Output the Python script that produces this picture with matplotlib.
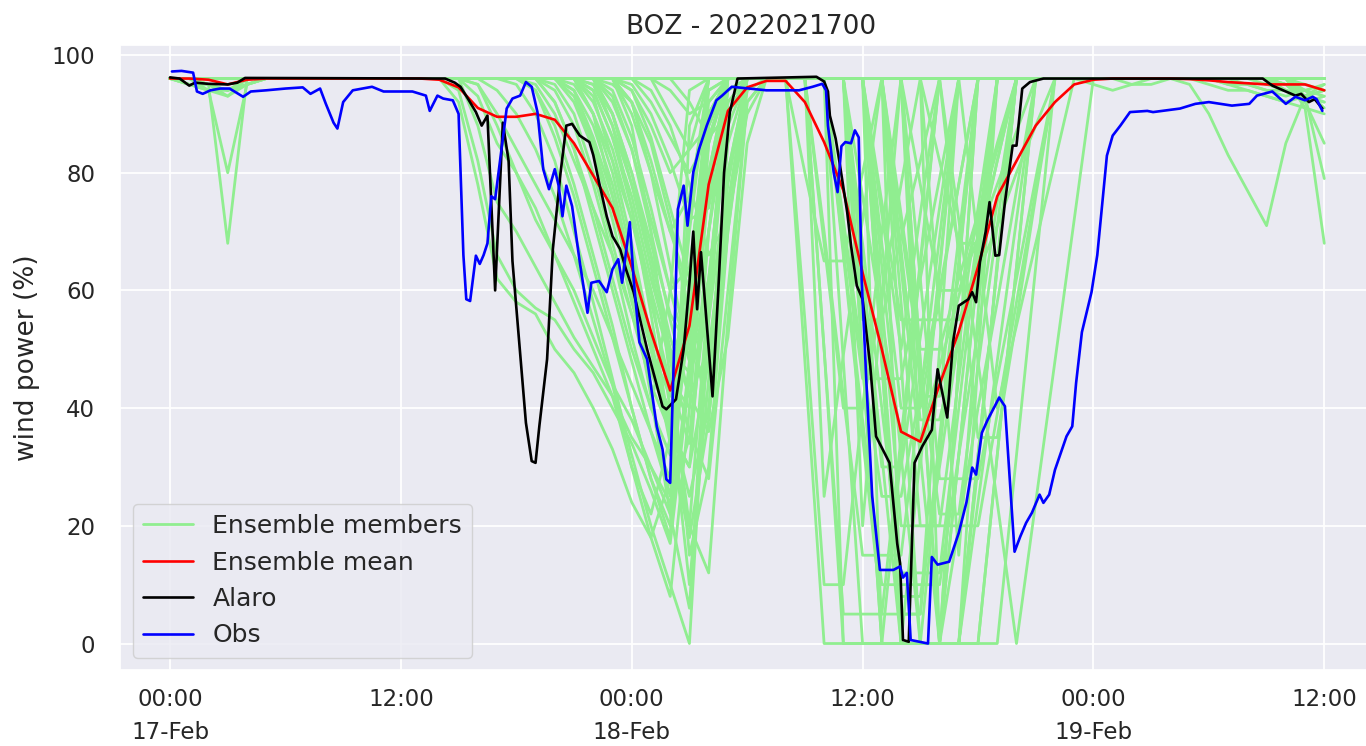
import pandas as pd
import matplotlib
matplotlib.use('Agg')
import matplotlib.pyplot as plt
import seaborn as sns

sns.set_theme(style='darkgrid')
plt.rcParams['font.family'] = ['DejaVu Sans']

# --- data (hours since 2022-02-17 00:00) ---
base = pd.Timestamp('2022-02-17 00:00')

# ensemble members, hourly values 00:00 17-Feb .. 12:00 19-Feb (61 values)
mem01 = [96, 96, 96, 96, 96, 96, 96, 96, 96, 96, 96, 96, 96, 96,
         96, 92, 78, 62, 58, 56, 50, 46, 40, 33, 24, 18, 28, 62, 92, 96, 96, 96,
         96, 48, 0, 0, 0, 0, 32, 64, 96, 96, 96, 96, 96, 96, 96, 96, 96, 96,
         96, 96, 96, 96, 96, 96, 96, 95, 94, 93, 94]
mem02 = [96, 96, 96, 96, 96, 96, 96, 96, 96, 96, 96, 96, 96, 96,
         96, 94, 82, 66, 60, 57, 55, 50, 46, 40, 34, 26, 17, 45, 80, 96, 96, 96,
         96, 55, 10, 10, 40, 70, 96, 96, 96, 96, 96, 96, 96, 96, 96, 96, 96, 96,
         96, 96, 96, 96, 96, 96, 96, 96, 96, 96, 96]
mem03 = [96, 96, 95, 68, 96, 96, 96, 96, 96, 96, 96, 96, 96, 96,
         96, 96, 88, 75, 70, 64, 58, 52, 47, 42, 30, 22, 35, 75, 96, 96, 96, 96,
         96, 96, 50, 0, 0, 0, 0, 0, 0, 0, 30, 65, 96, 96, 96, 96, 96, 96,
         96, 96, 96, 96, 96, 96, 96, 96, 96, 96, 96]
mem04 = [96, 96, 96, 96, 96, 96, 96, 96, 96, 96, 96, 96, 96, 96,
         96, 96, 93, 85, 80, 74, 66, 58, 50, 42, 35, 30, 22, 60, 90, 96, 96, 96,
         96, 96, 70, 42, 15, 15, 15, 42, 69, 96, 96, 96, 96, 96, 96, 96, 96, 96,
         96, 96, 96, 96, 96, 96, 96, 96, 96, 96, 96]
mem05 = [96, 96, 96, 96, 96, 96, 96, 96, 96, 96, 96, 96, 96, 96,
         96, 96, 96, 94, 90, 84, 76, 66, 55, 44, 30, 18, 8, 40, 85, 96, 96, 96,
         96, 96, 96, 48, 0, 0, 0, 0, 0, 32, 64, 96, 96, 96, 96, 96, 96, 96,
         96, 96, 96, 95, 90, 83, 77, 71, 85, 93, 94]
mem06 = [96, 96, 96, 96, 96, 96, 96, 96, 96, 96, 96, 96, 96, 96,
         96, 96, 96, 96, 95, 90, 82, 70, 58, 45, 32, 20, 10, 0, 55, 92, 96, 96,
         96, 96, 96, 66, 35, 5, 5, 5, 35, 65, 96, 96, 96, 96, 96, 96, 96, 96,
         96, 96, 96, 96, 96, 96, 96, 96, 96, 96, 96]
mem07 = [96, 96, 94, 80, 95, 96, 96, 96, 96, 96, 96, 96, 96, 96,
         96, 96, 96, 96, 96, 94, 88, 78, 66, 54, 40, 28, 20, 48, 88, 96, 96, 96,
         96, 96, 96, 72, 48, 25, 25, 43, 60, 78, 96, 96, 96, 96, 96, 96, 96, 96,
         96, 96, 96, 96, 96, 96, 96, 96, 96, 96, 96]
mem08 = [96, 96, 96, 96, 96, 96, 96, 96, 96, 96, 96, 96, 96, 96,
         96, 96, 96, 96, 96, 96, 92, 84, 72, 60, 48, 36, 28, 55, 90, 96, 96, 96,
         96, 96, 96, 96, 48, 0, 0, 0, 0, 0, 32, 64, 96, 96, 96, 96, 96, 96,
         96, 96, 96, 96, 96, 96, 96, 96, 96, 96, 96]
mem09 = [96, 96, 96, 96, 96, 96, 96, 96, 96, 96, 96, 96, 96, 96,
         96, 96, 96, 96, 96, 96, 94, 88, 78, 66, 52, 40, 32, 62, 94, 96, 96, 96,
         96, 96, 96, 96, 68, 40, 12, 12, 12, 40, 68, 96, 96, 96, 96, 96, 96, 96,
         96, 96, 96, 96, 96, 95, 94, 93, 92, 91, 90]
mem10 = [96, 95, 94, 94, 95, 96, 96, 96, 96, 96, 96, 96, 96, 96,
         96, 96, 96, 96, 96, 96, 96, 92, 84, 72, 58, 46, 38, 70, 96, 96, 96, 96,
         96, 96, 96, 96, 76, 55, 35, 35, 47, 59, 72, 84, 96, 96, 96, 96, 96, 96,
         96, 96, 96, 96, 96, 96, 96, 96, 96, 96, 96]
mem11 = [96, 96, 96, 96, 96, 96, 96, 96, 96, 96, 96, 96, 96, 96,
         96, 96, 96, 96, 96, 95, 90, 82, 74, 66, 56, 46, 40, 52, 80, 96, 96, 96,
         96, 96, 96, 96, 96, 48, 0, 0, 0, 0, 32, 64, 96, 96, 96, 96, 95, 94,
         95, 96, 96, 96, 96, 96, 96, 96, 96, 96, 96]
mem12 = [96, 96, 96, 96, 96, 96, 96, 96, 96, 96, 96, 96, 96, 96,
         96, 96, 96, 96, 96, 96, 96, 94, 88, 78, 64, 50, 42, 60, 88, 96, 96, 96,
         96, 96, 96, 96, 96, 58, 20, 20, 20, 45, 70, 96, 96, 96, 96, 96, 96, 96,
         96, 96, 96, 96, 96, 96, 96, 96, 96, 91, 68]
mem13 = [96, 96, 96, 96, 96, 96, 96, 96, 96, 96, 96, 96, 96, 96,
         96, 96, 96, 96, 96, 96, 95, 90, 80, 68, 56, 44, 36, 30, 70, 94, 96, 96,
         96, 96, 96, 96, 96, 64, 32, 0, 0, 0, 24, 48, 72, 96, 96, 96, 96, 96,
         96, 96, 96, 96, 96, 96, 96, 96, 96, 96, 96]
mem14 = [96, 96, 96, 96, 96, 96, 96, 96, 96, 96, 96, 96, 96, 96,
         96, 96, 96, 96, 96, 96, 96, 96, 90, 80, 66, 52, 45, 40, 78, 96, 96, 96,
         96, 96, 96, 96, 96, 68, 40, 40, 59, 78, 96, 96, 96, 96, 96, 96, 96, 96,
         96, 96, 96, 96, 95, 94, 94, 93, 92, 93, 92]
mem15 = [96, 96, 96, 96, 96, 96, 96, 96, 96, 96, 96, 96, 96, 96,
         96, 96, 96, 96, 96, 96, 96, 93, 85, 74, 62, 50, 38, 25, 40, 80, 96, 96,
         96, 96, 96, 96, 96, 96, 58, 20, 20, 20, 20, 39, 58, 77, 96, 96, 96, 96,
         96, 96, 96, 96, 96, 96, 96, 96, 96, 96, 96]
mem16 = [96, 96, 96, 96, 96, 96, 96, 96, 96, 96, 96, 96, 96, 96,
         96, 96, 96, 96, 96, 96, 96, 96, 94, 86, 74, 60, 48, 55, 85, 96, 96, 96,
         96, 96, 96, 96, 96, 96, 73, 50, 50, 62, 73, 85, 96, 96, 96, 96, 96, 96,
         96, 96, 96, 96, 96, 96, 96, 96, 96, 96, 96]
mem17 = [96, 96, 96, 96, 96, 96, 96, 96, 96, 96, 96, 96, 96, 96,
         96, 96, 96, 96, 96, 96, 96, 96, 96, 90, 80, 68, 56, 50, 70, 90, 96, 96,
         96, 96, 96, 96, 96, 96, 64, 32, 0, 20, 40, 58, 77, 96, 96, 96, 96, 96,
         96, 96, 96, 96, 96, 96, 96, 96, 94, 92, 93]
mem18 = [96, 96, 95, 93, 96, 96, 96, 96, 96, 96, 96, 96, 96, 96,
         96, 96, 96, 96, 96, 96, 96, 96, 92, 84, 72, 58, 44, 34, 62, 88, 96, 96,
         96, 96, 96, 96, 96, 96, 67, 38, 38, 52, 67, 82, 96, 96, 96, 96, 96, 96,
         96, 96, 96, 96, 96, 96, 96, 96, 96, 96, 96]
mem19 = [96, 96, 96, 96, 96, 96, 96, 96, 96, 96, 96, 96, 96, 96,
         96, 96, 96, 96, 96, 96, 96, 96, 96, 94, 86, 74, 60, 64, 90, 96, 96, 96,
         96, 96, 96, 96, 96, 96, 96, 62, 28, 28, 28, 45, 62, 79, 96, 96, 96, 96,
         96, 96, 96, 96, 96, 96, 96, 96, 96, 96, 96]
mem20 = [96, 96, 96, 96, 96, 96, 96, 96, 96, 96, 96, 96, 96, 96,
         96, 96, 96, 96, 96, 96, 96, 96, 96, 96, 90, 80, 70, 76, 94, 96, 96, 96,
         96, 96, 96, 96, 96, 96, 96, 78, 60, 60, 69, 78, 87, 96, 96, 96, 96, 96,
         96, 96, 96, 96, 96, 96, 96, 96, 96, 93, 79]
mem21 = [96, 96, 96, 96, 96, 96, 96, 96, 96, 96, 96, 96, 96, 96,
         96, 96, 96, 96, 96, 96, 96, 96, 96, 96, 94, 88, 80, 84, 96, 96, 96, 96,
         96, 96, 96, 96, 96, 96, 96, 96, 96, 72, 48, 24, 0, 24, 48, 72, 96, 96,
         96, 96, 96, 96, 96, 96, 96, 96, 96, 96, 96]
mem22 = [96, 96, 96, 96, 96, 96, 96, 96, 96, 96, 96, 96, 96, 96,
         96, 96, 96, 96, 96, 96, 96, 96, 95, 88, 78, 66, 50, 15, 30, 70, 96, 96,
         96, 96, 96, 96, 55, 55, 69, 82, 96, 96, 96, 96, 96, 96, 96, 96, 96, 96,
         96, 96, 96, 96, 96, 96, 96, 96, 96, 96, 96]
mem23 = [96, 96, 96, 96, 96, 96, 96, 96, 96, 96, 96, 96, 96, 96,
         96, 96, 96, 96, 96, 96, 96, 96, 96, 92, 84, 70, 55, 42, 50, 75, 94, 96,
         96, 96, 68, 40, 40, 59, 78, 96, 96, 96, 96, 96, 96, 96, 96, 96, 96, 96,
         96, 96, 96, 96, 96, 96, 96, 96, 96, 96, 96]
mem24 = [96, 96, 96, 96, 96, 96, 96, 96, 96, 96, 96, 96, 96, 96,
         96, 96, 96, 96, 96, 96, 96, 96, 96, 96, 96, 92, 86, 80, 86, 96, 96, 96,
         96, 80, 65, 65, 80, 96, 96, 96, 96, 96, 96, 96, 96, 96, 96, 96, 96, 96,
         96, 96, 96, 96, 96, 96, 95, 94, 93, 94, 95]
mem25 = [96, 95, 95, 94, 96, 96, 96, 96, 96, 96, 96, 96, 96, 96,
         96, 96, 96, 96, 96, 96, 96, 96, 94, 86, 76, 62, 50, 46, 55, 80, 96, 96,
         96, 96, 96, 96, 96, 96, 96, 30, 63, 96, 96, 96, 96, 96, 96, 96, 96, 96,
         96, 96, 96, 96, 96, 96, 96, 96, 96, 96, 96]
mem26 = [96, 96, 96, 96, 96, 96, 96, 96, 96, 96, 96, 96, 96, 96,
         96, 96, 96, 96, 96, 96, 96, 96, 96, 96, 95, 90, 82, 72, 74, 90, 96, 96,
         96, 96, 96, 96, 96, 96, 96, 96, 82, 68, 68, 82, 96, 96, 96, 96, 96, 96,
         96, 96, 96, 96, 96, 96, 96, 96, 96, 96, 96]
mem27 = [96, 96, 96, 96, 96, 96, 96, 96, 96, 96, 96, 96, 96, 96,
         96, 96, 96, 96, 96, 96, 96, 96, 96, 96, 96, 96, 94, 90, 92, 96, 96, 96,
         96, 96, 96, 0, 0, 0, 0, 32, 64, 96, 96, 96, 96, 96, 96, 96, 96, 96,
         96, 96, 96, 96, 96, 96, 96, 96, 95, 92, 85]
mem28 = [96, 96, 96, 96, 96, 96, 96, 96, 96, 96, 96, 96, 96, 96,
         96, 96, 96, 96, 96, 96, 96, 96, 96, 93, 84, 72, 60, 48, 62, 92, 96, 96,
         96, 96, 96, 96, 63, 30, 30, 52, 74, 96, 96, 96, 96, 96, 96, 96, 96, 96,
         96, 96, 96, 96, 96, 96, 96, 96, 96, 96, 96]
mem29 = [96, 96, 96, 96, 96, 96, 96, 96, 96, 96, 96, 96, 96, 96,
         96, 96, 96, 96, 96, 96, 96, 96, 96, 96, 92, 82, 70, 60, 76, 96, 96, 96,
         96, 96, 96, 96, 96, 48, 0, 0, 0, 32, 64, 96, 96, 96, 96, 96, 96, 96,
         95, 95, 96, 96, 96, 96, 96, 96, 96, 96, 96]
mem30 = [96, 96, 96, 96, 96, 96, 96, 96, 96, 96, 96, 96, 96, 96,
         96, 96, 96, 96, 96, 96, 96, 96, 96, 96, 96, 96, 96, 96, 96, 96, 96, 96,
         96, 96, 96, 96, 96, 96, 96, 48, 0, 48, 96, 96, 96, 96, 96, 96, 96, 96,
         96, 96, 96, 96, 96, 96, 96, 96, 96, 96, 96]
mem31 = [96, 96, 96, 96, 96, 96, 96, 96, 96, 96, 96, 96, 96, 96,
         96, 96, 96, 96, 96, 96, 96, 96, 93, 82, 68, 52, 35, 20, 60, 96, 96, 96,
         96, 96, 50, 5, 5, 5, 35, 65, 96, 96, 96, 96, 96, 96, 96, 96, 96, 96,
         96, 96, 96, 96, 96, 96, 96, 96, 95, 94, 93]
mem32 = [96, 96, 96, 96, 96, 96, 96, 96, 96, 96, 96, 96, 96, 96,
         96, 96, 96, 96, 96, 96, 96, 96, 96, 96, 88, 70, 45, 20, 12, 55, 92, 96,
         96, 96, 96, 96, 96, 0, 0, 0, 32, 64, 96, 96, 96, 96, 96, 96, 96, 96,
         96, 96, 96, 96, 96, 96, 96, 96, 96, 96, 96]
mem33 = [96, 96, 95, 94, 95, 96, 96, 96, 96, 96, 96, 96, 96, 96,
         96, 96, 95, 90, 84, 78, 72, 66, 60, 52, 44, 36, 25, 72, 96, 96, 96, 96,
         96, 96, 96, 67, 38, 10, 10, 10, 10, 32, 53, 75, 96, 96, 96, 96, 96, 96,
         96, 96, 96, 96, 96, 96, 96, 96, 96, 96, 96]
mem34 = [96, 96, 96, 96, 96, 96, 96, 96, 96, 96, 96, 96, 96, 96,
         96, 96, 96, 96, 96, 96, 96, 95, 90, 82, 72, 60, 40, 10, 45, 85, 96, 96,
         96, 96, 96, 96, 96, 96, 48, 0, 0, 0, 48, 96, 96, 96, 96, 96, 96, 96,
         96, 96, 96, 96, 96, 96, 96, 96, 96, 96, 96]
mem35 = [96, 96, 96, 96, 96, 96, 96, 96, 96, 96, 96, 96, 96, 96,
         96, 96, 96, 96, 96, 96, 96, 96, 96, 95, 92, 85, 72, 55, 38, 70, 94, 96,
         96, 96, 96, 96, 20, 58, 96, 96, 96, 96, 96, 96, 96, 96, 96, 96, 96, 96,
         96, 96, 96, 96, 96, 95, 95, 94, 94, 93, 92]
mem36 = [96, 96, 96, 96, 96, 96, 96, 96, 96, 96, 96, 96, 96, 96,
         96, 96, 96, 96, 96, 96, 96, 96, 90, 76, 60, 42, 22, 6, 60, 96, 96, 96,
         96, 96, 96, 96, 96, 96, 96, 48, 0, 0, 0, 0, 32, 64, 96, 96, 96, 96,
         96, 96, 96, 96, 96, 96, 96, 96, 96, 96, 96]
mem37 = [96, 96, 96, 96, 96, 96, 96, 96, 96, 96, 96, 96, 96, 96,
         96, 96, 96, 96, 96, 94, 86, 76, 64, 52, 40, 28, 18, 88, 96, 96, 96, 96,
         96, 96, 96, 96, 96, 96, 96, 96, 56, 15, 56, 96, 96, 96, 96, 96, 96, 96,
         96, 96, 96, 96, 96, 96, 96, 96, 96, 96, 96]
mem38 = [96, 96, 96, 96, 96, 96, 96, 96, 96, 96, 96, 96, 96, 96,
         96, 96, 96, 96, 96, 96, 96, 96, 96, 88, 74, 56, 36, 30, 48, 78, 96, 96,
         96, 96, 25, 49, 72, 96, 96, 96, 96, 96, 96, 96, 96, 96, 96, 96, 96, 96,
         96, 96, 96, 96, 96, 96, 96, 96, 96, 96, 96]
mem39 = [96, 96, 96, 96, 96, 96, 96, 96, 96, 96, 96, 96, 96, 96,
         96, 96, 96, 96, 96, 96, 96, 96, 96, 96, 96, 94, 88, 78, 66, 72, 90, 96,
         96, 96, 96, 96, 96, 73, 50, 73, 96, 96, 96, 96, 96, 96, 96, 96, 96, 96,
         96, 96, 96, 96, 96, 96, 96, 96, 96, 96, 96]
mem40 = [96, 96, 96, 96, 96, 96, 96, 96, 96, 96, 96, 96, 96, 96,
         96, 96, 96, 96, 96, 96, 96, 96, 96, 96, 96, 96, 96, 96, 96, 96, 96, 96,
         96, 96, 96, 96, 96, 96, 96, 96, 96, 66, 35, 35, 55, 76, 96, 96, 96, 96,
         96, 96, 96, 96, 96, 96, 96, 96, 96, 94, 91]
mem41 = [96, 96, 96, 96, 96, 96, 96, 96, 96, 96, 96, 96, 96, 96,
         96, 96, 96, 96, 96, 96, 92, 84, 74, 62, 50, 40, 60, 94, 96, 96, 96, 96,
         96, 96, 96, 96, 48, 0, 0, 0, 0, 0, 0, 32, 64, 96, 96, 96, 96, 96,
         96, 96, 96, 96, 96, 96, 96, 96, 96, 96, 96]
mem42 = [96, 96, 96, 96, 96, 96, 96, 96, 96, 96, 96, 96, 96, 96,
         96, 96, 96, 96, 96, 96, 96, 96, 96, 90, 78, 64, 48, 36, 28, 60, 92, 96,
         96, 96, 96, 96, 96, 96, 5, 5, 50, 96, 96, 96, 96, 96, 96, 96, 96, 96,
         96, 96, 96, 96, 96, 96, 96, 96, 96, 96, 96]
mem43 = [96, 96, 96, 96, 96, 96, 96, 96, 96, 96, 96, 96, 96, 96,
         96, 96, 96, 96, 96, 96, 96, 96, 96, 96, 94, 86, 74, 62, 75, 96, 96, 96,
         96, 96, 96, 96, 96, 96, 96, 42, 42, 69, 96, 96, 96, 96, 96, 96, 96, 96,
         96, 96, 96, 96, 96, 96, 96, 96, 96, 96, 96]
mem44 = [96, 96, 96, 96, 96, 96, 96, 96, 96, 96, 96, 96, 96, 96,
         96, 96, 96, 96, 96, 96, 96, 96, 96, 96, 96, 96, 96, 96, 96, 96, 96, 96,
         96, 96, 96, 70, 45, 45, 45, 62, 79, 96, 96, 96, 96, 96, 96, 96, 96, 96,
         96, 96, 96, 96, 96, 96, 96, 96, 95, 93, 95]
mem45 = [96, 95, 94, 93, 95, 96, 96, 96, 96, 96, 96, 96, 96, 96,
         96, 96, 95, 88, 80, 72, 66, 60, 52, 44, 38, 30, 24, 35, 70, 94, 96, 96,
         96, 96, 96, 96, 96, 96, 96, 96, 0, 0, 0, 32, 64, 96, 96, 96, 96, 96,
         96, 96, 96, 96, 96, 96, 96, 96, 96, 96, 96]
mem46 = [96, 96, 96, 96, 96, 96, 96, 96, 96, 96, 96, 96, 96, 96,
         96, 96, 96, 96, 96, 96, 96, 96, 95, 90, 80, 66, 52, 42, 36, 52, 85, 96,
         96, 96, 96, 96, 96, 52, 8, 8, 30, 52, 74, 96, 96, 96, 96, 96, 96, 96,
         96, 96, 96, 96, 96, 96, 96, 96, 96, 96, 96]
mem47 = [96, 96, 96, 96, 96, 96, 96, 96, 96, 96, 96, 96, 96, 96,
         96, 96, 96, 96, 96, 96, 96, 96, 96, 96, 96, 96, 90, 84, 88, 96, 96, 96,
         96, 96, 96, 96, 96, 96, 96, 96, 96, 96, 68, 40, 54, 68, 82, 96, 96, 96,
         96, 96, 96, 96, 96, 96, 96, 96, 96, 95, 94]
mem48 = [96, 96, 96, 96, 96, 96, 96, 96, 96, 96, 96, 96, 96, 96,
         96, 96, 96, 96, 96, 96, 96, 94, 86, 76, 64, 50, 34, 18, 38, 74, 96, 96,
         96, 96, 96, 96, 64, 32, 0, 0, 0, 48, 96, 96, 96, 96, 96, 96, 96, 96,
         96, 96, 96, 96, 96, 96, 96, 96, 96, 96, 96]
mem49 = [96, 96, 96, 96, 96, 96, 96, 96, 96, 96, 96, 96, 96, 96,
         96, 96, 96, 96, 96, 96, 96, 96, 96, 96, 92, 80, 64, 48, 58, 90, 96, 96,
         96, 96, 96, 96, 96, 96, 71, 47, 22, 22, 47, 71, 96, 96, 96, 96, 96, 96,
         96, 96, 96, 96, 96, 96, 96, 96, 96, 96, 96]
mem50 = [96, 96, 96, 96, 96, 96, 96, 96, 96, 96, 96, 96, 96, 96,
         96, 96, 96, 96, 96, 96, 96, 96, 96, 96, 96, 96, 96, 92, 86, 90, 96, 96,
         96, 96, 96, 96, 96, 75, 55, 55, 55, 55, 63, 71, 80, 88, 96, 96, 96, 96,
         96, 96, 96, 96, 96, 96, 96, 96, 96, 96, 96]

members = [mem01, mem02, mem03, mem04, mem05, mem06, mem07, mem08, mem09, mem10,
           mem11, mem12, mem13, mem14, mem15, mem16, mem17, mem18, mem19, mem20,
           mem21, mem22, mem23, mem24, mem25, mem26, mem27, mem28, mem29, mem30,
           mem31, mem32, mem33, mem34, mem35, mem36, mem37, mem38, mem39, mem40,
           mem41, mem42, mem43, mem44, mem45, mem46, mem47, mem48, mem49, mem50]

ens_mean = [96, 96, 95.8, 95, 95.8, 96, 96, 96, 96, 96, 96, 96, 96, 96,
            95.8, 94.5, 91, 89.5, 89.5, 90, 89, 85, 79.5, 74, 64, 53, 43, 54, 78, 90.5, 94.5, 95.6,
            95.6, 92, 85.2, 77, 63, 50, 36, 34.3, 44, 53, 64, 76, 82, 88, 92, 95, 95.8, 96,
            96, 96, 96, 95.9, 95.7, 95.4, 95.2, 95, 95, 95, 94]

alaro_h = [0.0, 0.5, 1.0, 1.3, 2.0, 3.0, 3.5, 3.9, 14.3, 14.8, 15.1, 15.5, 15.9, 16.2, 16.5, 16.9,
           17.3, 17.6, 17.8, 18.5, 18.8, 19.0, 19.2, 19.6, 19.9, 20.3, 20.6, 20.9, 21.3, 21.8, 22.0, 22.3,
           22.7, 23.0, 23.4, 23.7, 24.1, 24.8, 25.6, 25.8, 26.3, 26.7, 27.0, 27.2, 27.4, 27.6, 28.2, 28.5,
           28.8, 29.1, 29.5, 33.6, 34.0, 34.2, 34.3, 34.6, 34.8, 35.2, 35.4, 35.7, 36.0, 36.4, 36.7, 37.4,
           37.8, 37.95, 38.1, 38.4, 38.7, 39.1, 39.6, 39.9, 40.4, 40.7, 41.0, 41.5, 41.7, 41.9, 42.1, 42.4,
           42.6, 42.9, 43.1, 43.4, 43.8, 44.0, 44.3, 44.7, 45.4, 56.8, 57.3, 58.0, 58.5, 58.8, 59.2, 59.5,
           59.9]
alaro_v = [96.2, 96.0, 94.8, 95.3, 95.1, 95.0, 95.3, 96.1, 96.0, 95.3, 94.6, 92.5, 90.3, 88.0, 89.7, 60.0,
           88.5, 82.0, 65.0, 37.5, 31.0, 30.7, 37.0, 48.3, 67.0, 80.0, 88.0, 88.3, 86.3, 85.2, 83.0, 78.4,
           72.6, 69.2, 67.0, 63.6, 59.7, 50.0, 40.3, 39.8, 41.5, 50.0, 61.3, 70.0, 56.8, 66.5, 42.0, 60.0,
           80.0, 90.3, 96.0, 96.3, 95.5, 93.8, 89.7, 85.8, 81.8, 73.3, 67.6, 60.8, 58.5, 47.1, 35.2, 30.7,
           17.0, 13.6, 0.6, 0.3, 30.7, 33.5, 36.3, 46.6, 38.4, 51.2, 57.4, 58.5, 59.7, 58.0, 64.8, 70.0,
           75.0, 65.9, 66.0, 75.0, 84.6, 84.6, 94.3, 95.4, 96.0, 96.0, 94.8, 93.8, 93.1, 93.4, 92.0, 92.5,
           90.9]

obs_h = [0.1, 0.6, 1.2, 1.4, 1.7, 2.1, 2.6, 3.1, 3.5, 3.8,
         4.2, 5.0, 6.0, 6.9, 7.3, 7.8, 8.1, 8.5, 8.7, 9.0,
         9.5, 10.5, 11.1, 12.6, 13.3, 13.5, 13.9, 14.2, 14.7, 15.0,
         15.25, 15.4, 15.6, 15.9, 16.1, 16.3, 16.5, 16.7, 16.9, 17.1,
         17.5, 17.8, 18.2, 18.5, 18.8, 19.1, 19.4, 19.7, 20.0, 20.2,
         20.4, 20.6, 20.9, 21.3, 21.7, 21.9, 22.3, 22.7, 23.0, 23.3,
         23.5, 23.9, 24.1, 24.4, 24.8, 25.3, 25.6, 25.8, 26.0, 26.2,
         26.4, 26.7, 26.9, 27.2, 27.5, 27.9, 28.4, 28.7, 29.2, 31.0,
         32.7, 33.4, 33.9, 34.1, 34.2, 34.5, 34.7, 34.9, 35.1, 35.4,
         35.6, 35.8, 35.95, 36.2, 36.5, 36.9, 37.6, 37.95, 38.1, 38.3,
         38.5, 39.4, 39.6, 39.9, 40.5, 41.0, 41.4, 41.7, 41.9, 42.2,
         42.5, 42.9, 43.1, 43.4, 43.9, 44.2, 44.5, 44.8, 45.2, 45.4,
         45.7, 46.0, 46.6, 46.9, 47.1, 47.4, 47.9, 48.2, 48.7, 49.0,
         49.4, 49.9, 50.8, 51.1, 52.5, 53.3, 54.0, 55.2, 56.1, 56.5,
         57.3, 58.0, 58.5, 59.0, 59.4, 59.6, 59.9]
obs_v = [97.2, 97.3, 97.0, 93.8, 93.4, 94.0, 94.3, 94.3, 93.5, 92.9,
         93.8, 94.0, 94.3, 94.5, 93.4, 94.3, 91.7, 88.5, 87.5, 92.0,
         94.0, 94.6, 93.8, 93.8, 93.1, 90.5, 93.1, 92.6, 92.3, 90.0,
         66.0, 58.5, 58.2, 65.9, 64.5, 66.0, 68.0, 76.0, 75.5, 80.6,
         90.9, 92.6, 93.1, 95.4, 94.6, 90.3, 80.6, 77.2, 80.6, 77.8,
         72.6, 77.8, 74.3, 64.8, 56.2, 61.3, 61.6, 59.7, 63.6, 65.3,
         61.3, 71.6, 61.9, 51.2, 48.3, 36.9, 33.0, 27.9, 27.3, 50.0,
         73.8, 77.8, 71.0, 80.1, 84.0, 88.0, 92.3, 93.1, 94.6, 94.0,
         94.0, 94.6, 95.1, 94.0, 88.0, 80.0, 76.7, 84.5, 85.2, 85.0,
         87.2, 86.0, 62.0, 44.3, 25.0, 12.5, 12.5, 13.1, 11.2, 12.0,
         0.6, 0.0, 14.7, 13.4, 13.9, 18.8, 24.0, 29.9, 28.7, 35.8,
         38.0, 40.5, 41.8, 40.3, 15.6, 18.2, 20.5, 22.2, 25.3, 23.9,
         25.3, 29.5, 35.2, 36.9, 44.3, 52.9, 59.7, 66.0, 82.9, 86.3,
         88.0, 90.3, 90.5, 90.3, 90.9, 91.7, 92.0, 91.4, 91.7, 93.1,
         93.8, 91.7, 92.9, 92.3, 92.9, 92.5, 90.5]

tick_labels = ['00:00\n17-Feb', '12:00', '00:00\n18-Feb', '12:00', '00:00\n19-Feb', '12:00']

# --- plot ---
times = pd.date_range(base, periods=61, freq='h')
alaro_t = base + pd.to_timedelta(alaro_h, unit='h')
obs_t = base + pd.to_timedelta(obs_h, unit='h')

fig = plt.figure(figsize=(13.66, 7.46), dpi=100)
ax = fig.add_axes([120 / 1366, 76 / 746, 1262 / 1366, 625 / 746])

for i, m in enumerate(members):
    ax.plot(times, m, color='lightgreen', lw=2.0,
            label='Ensemble members' if i == 0 else '_nolegend_')
ax.plot(times, ens_mean, color='red', lw=1.9, label='Ensemble mean')
ax.plot(alaro_t, alaro_v, color='black', lw=1.9, label='Alaro')
ax.plot(obs_t, obs_v, color='blue', lw=1.9, label='Obs')

ax.set_xlim(base - pd.Timedelta(hours=2.6), base + pd.Timedelta(hours=63))
ax.set_ylim(-4.5, 101.7)
ax.set_yticks([0, 20, 40, 60, 80, 100])
ax.set_xticks(pd.date_range(base, periods=6, freq='12h'))
ax.set_xticklabels(tick_labels)
for lab in ax.get_xticklabels():
    lab.set_linespacing(1.55)
ax.tick_params(axis='x', labelsize=16.5, pad=13, length=0)
ax.tick_params(axis='y', labelsize=16.5, pad=18, length=0)
ax.grid(color='white', lw=1.3)

ax.set_title('BOZ - 2022021700', fontsize=19, pad=8)
ax.set_ylabel('wind power (%)', fontsize=19, labelpad=8)
ax.legend(loc='lower left', fontsize=18)

fig.savefig('out.png', dpi=100)
